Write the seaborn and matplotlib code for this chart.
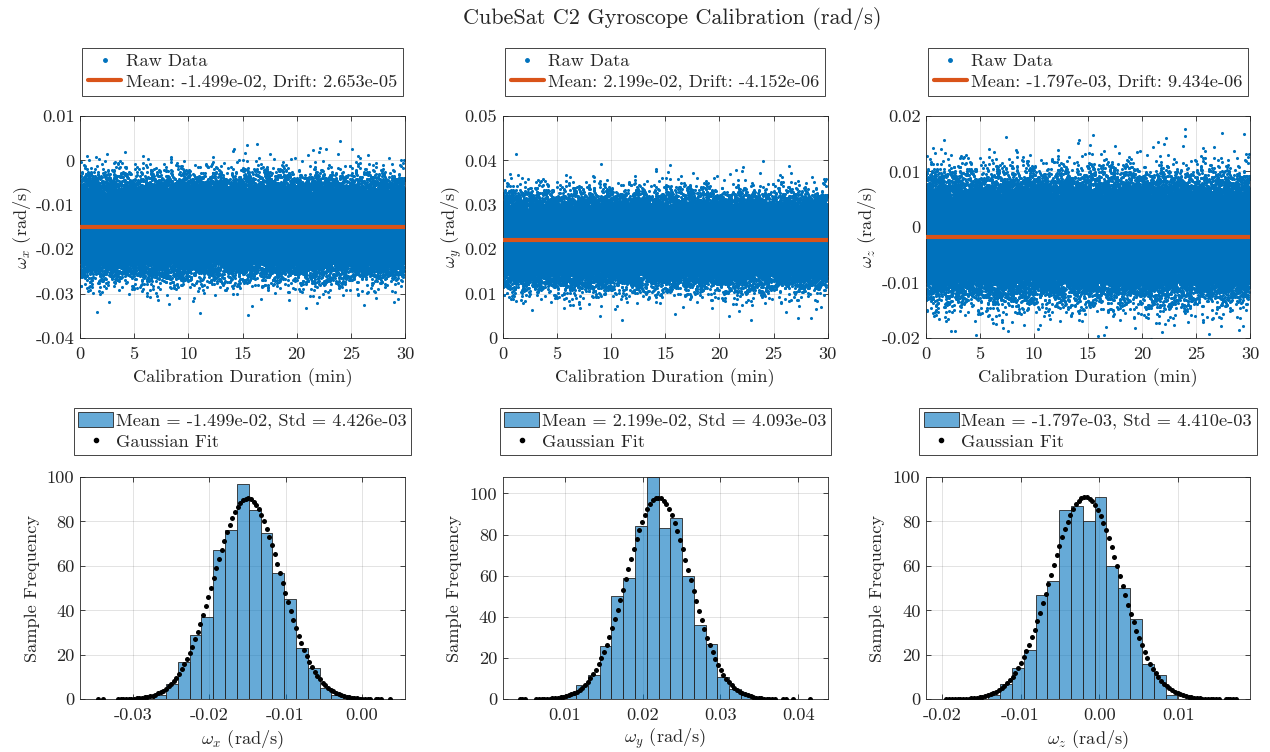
import math
import numpy as np
import pandas as pd
import matplotlib
matplotlib.use("Agg")
import matplotlib.pyplot as plt
import seaborn as sns
from matplotlib.lines import Line2D
from matplotlib.patches import Patch
from matplotlib.ticker import FixedLocator, FixedFormatter

# ---------------- calibration summary ----------------
axis_names = ["x", "y", "z"]
means = [-1.499e-02, 2.199e-02, -1.797e-03]
stds = [4.426e-03, 4.093e-03, 4.410e-03]
drifts = [2.653e-05, -4.152e-06, 9.434e-06]
duration_min = 30.0
n_samples = 90000          # 50 Hz over 30 min

# isolated extreme readings: time (min), rate (rad/s)
peak_t_x = [1.6, 15.5, 8.2, 4.15, 16.3, 22.7, 25.1, 2.5]
peak_v_x = [-0.0341, -0.0349, -0.0323, 0.0020, 0.0036, 0.0026, 0.0026, 0.0015]
peak_t_y = [1.2, 9.1, 26.4, 9.0, 22.9, 27.3, 28.5, 5.7]
peak_v_y = [0.0414, 0.0393, 0.0387, 0.0050, 0.0040, 0.0044, 0.0046, 0.0068]
peak_t_z = [1.67, 7.4, 27.4, 29.4, 24.0, 4.6, 16.5, 2.3, 7.6]
peak_v_z = [0.0157, 0.0162, 0.0170, 0.0167, 0.0164, -0.0194, -0.0194, -0.0188, -0.0187]

# histogram of a calibration subset
hist_first_edge = [-0.027262, 0.009937, -0.014107]
hist_bin_width = [0.001553, 0.001513, 0.0015]
hist_counts_x = [2, 7, 17, 29, 37, 67, 76, 97, 85, 75, 57, 45, 23, 14, 5, 2]
hist_counts_y = [2, 7, 12, 26, 50, 59, 84, 108, 83, 88, 60, 36, 27, 11, 5, 2]
hist_counts_z = [2, 7, 14, 22, 47, 53, 85, 87, 80, 91, 60, 50, 36, 16, 11, 2]

# Gaussian fit: peak height of the scaled density
fit_peak = [90.4, 98.0, 91.0]

# sensor resolution and the distinct sample values where the fit is evaluated
lsb = 0.000349
fit_core_x = (-0.0320, 0.0012)
fit_tail_x = [-0.0347, -0.0340, 0.0019, 0.0022, 0.0025, 0.0037]
fit_core_y = (0.0063, 0.0370)
fit_tail_y = [0.0042, 0.0045, 0.0049, 0.0380, 0.0384, 0.0394, 0.0415]
fit_core_z = (-0.0194, 0.0152)
fit_tail_z = [0.0160, 0.0163, 0.0166, 0.0170, 0.0173]

# axis ticks
time_ticks = [0, 5, 10, 15, 20, 25, 30]
rate_ticks_x = [-0.04, -0.03, -0.02, -0.01, 0.0, 0.01]
rate_labels_x = ["-0.04", "-0.03", "-0.02", "-0.01", "0", "0.01"]
rate_ticks_y = [0.0, 0.01, 0.02, 0.03, 0.04, 0.05]
rate_labels_y = ["0", "0.01", "0.02", "0.03", "0.04", "0.05"]
rate_ticks_z = [-0.02, -0.01, 0.0, 0.01, 0.02]
rate_labels_z = ["-0.02", "-0.01", "0", "0.01", "0.02"]
hist_ticks_x = [-0.03, -0.02, -0.01, 0.0]
hist_labels_x = ["-0.03", "-0.02", "-0.01", "0.00"]
hist_ticks_y = [0.01, 0.02, 0.03, 0.04]
hist_labels_y = ["0.01", "0.02", "0.03", "0.04"]
hist_ticks_z = [-0.02, -0.01, 0.0, 0.01]
hist_labels_z = ["-0.02", "-0.01", "0.00", "0.01"]
freq_ticks = [0, 20, 40, 60, 80, 100]

# ---------------- styling ----------------
sns.set_style("white")
plt.rcParams["font.family"] = ["cmr10"]
plt.rcParams["mathtext.fontset"] = "cm"
plt.rcParams["axes.unicode_minus"] = False
plt.rcParams["axes.formatter.use_mathtext"] = True

BLUE = "#0072BD"
ORANGE = "#D95319"
INK = "#262626"
FS = 13.2


def std_normal_quantiles(n):
    """Evenly spaced quantiles of the standard normal distribution."""
    z = np.linspace(-6.5, 6.5, 40001)
    cdf = 0.5 * (1.0 + np.vectorize(math.erf)(z / math.sqrt(2.0)))
    u = (np.arange(n) + 0.5) / n
    return np.interp(u, cdf, z)


def style_axes(ax):
    for sp in ax.spines.values():
        sp.set_visible(True)
        sp.set_color(INK)
        sp.set_linewidth(0.6)
    ax.tick_params(direction="in", length=3.5, width=0.6, color=INK,
                   labelcolor=INK, labelsize=FS, top=True, right=True,
                   bottom=True, left=True)
    ax.tick_params(axis="x", pad=6)
    ax.tick_params(axis="y", pad=4)
    ax.grid(True, color=INK, alpha=0.15, linewidth=0.6)
    ax.set_axisbelow(True)


# time base and the ordering of readings within the recording
t = np.arange(n_samples) * duration_min / n_samples
k = np.arange(n_samples, dtype=np.float64)
order = np.argsort(np.mod(k * k * 0.7548776662466927 + k * 0.5698402909980532 + 0.37, 1.0))
zq = std_normal_quantiles(n_samples)[order]

peaks_t = [peak_t_x, peak_t_y, peak_t_z]
peaks_v = [peak_v_x, peak_v_y, peak_v_z]
rate_ticks = [rate_ticks_x, rate_ticks_y, rate_ticks_z]
rate_labels = [rate_labels_x, rate_labels_y, rate_labels_z]
rate_lims = [(-0.04, 0.01), (0.0, 0.05), (-0.02, 0.02)]
hist_counts = [hist_counts_x, hist_counts_y, hist_counts_z]
fit_cores = [fit_core_x, fit_core_y, fit_core_z]
fit_tails = [fit_tail_x, fit_tail_y, fit_tail_z]
hist_ticks = [hist_ticks_x, hist_ticks_y, hist_ticks_z]
hist_labels = [hist_labels_x, hist_labels_y, hist_labels_z]
hist_xlims = [(-0.0370, 0.0057), (0.0020, 0.0438), (-0.0220, 0.0191)]
hist_ylims = [(0, 100), (0, 108), (0, 100)]

W, H = 1270, 752
fig = plt.figure(figsize=(W / 100, H / 100), dpi=100)

lefts = [80, 502.7, 926]
widths = [325, 325, 324]
top_row = (116, 338)
bot_row = (477, 699.3)
ylab_x_top = [-0.175, -0.156, -0.18]
ylab_x_bot = [-0.148, -0.148, -0.15]


def add_axes(left, width, row):
    return fig.add_axes([left / W, 1 - row[1] / H, width / W, (row[1] - row[0]) / H])


def style_legend(leg):
    leg.get_frame().set_linewidth(0.6)
    for txt in leg.get_texts():
        txt.set_color(INK)


for i in range(3):
    name = axis_names[i]
    m, s = means[i], stds[i]

    # ---- raw rate vs time ----
    ax = add_axes(lefts[i], widths[i], top_row)
    style_axes(ax)
    raw = m + s * zq
    sns.scatterplot(x=t, y=raw, s=5, color=BLUE, linewidth=0, ax=ax,
                    legend=False, zorder=2)
    sns.scatterplot(x=peaks_t[i], y=peaks_v[i], s=5, color=BLUE, linewidth=0,
                    ax=ax, legend=False, zorder=2)
    sns.lineplot(x=[t[0], duration_min], y=[m, m], color=ORANGE, linewidth=3,
                 ax=ax, legend=False, zorder=3)
    ax.set_xlim(0, duration_min)
    ax.set_ylim(*rate_lims[i])
    ax.xaxis.set_major_locator(FixedLocator(time_ticks))
    ax.xaxis.set_major_formatter(FixedFormatter([str(v) for v in time_ticks]))
    ax.yaxis.set_major_locator(FixedLocator(rate_ticks[i]))
    ax.yaxis.set_major_formatter(FixedFormatter(rate_labels[i]))
    ax.set_xlabel("Calibration Duration (min)", fontsize=FS, color=INK)
    ax.set_ylabel(r"$\omega_%s$ (rad/s)" % name, fontsize=FS, color=INK)
    ax.xaxis.set_label_coords(0.5, -0.18)
    ax.xaxis.label.set_va("center")
    ax.yaxis.set_label_coords(ylab_x_top[i], 0.5)
    ax.yaxis.label.set_va("center")
    handles = [
        Line2D([], [], linestyle="none", marker=".", markersize=5, color=BLUE),
        Line2D([], [], color=ORANGE, linewidth=3),
    ]
    labels = ["Raw Data", f"Mean: {m:.3e}, Drift: {drifts[i]:.3e}"]
    leg = ax.legend(handles, labels, loc="lower center",
                    bbox_to_anchor=(0.5, 1.09), fontsize=FS, frameon=True,
                    fancybox=False, framealpha=1, edgecolor=INK,
                    handlelength=1.8, handletextpad=0.25, borderpad=0.32,
                    labelspacing=0.25, borderaxespad=0)
    style_legend(leg)

    # ---- histogram with Gaussian fit ----
    ax = add_axes(lefts[i], widths[i], bot_row)
    style_axes(ax)
    counts = np.array(hist_counts[i], dtype=float)
    edges = hist_first_edge[i] + hist_bin_width[i] * np.arange(len(counts) + 1)
    centers = 0.5 * (edges[:-1] + edges[1:])
    hist_df = pd.DataFrame({"rate": centers, "count": counts})
    sns.histplot(data=hist_df, x="rate", weights="count", bins=edges.tolist(),
                 color=BLUE, alpha=0.6, edgecolor=INK, linewidth=0.6, ax=ax,
                 zorder=2)
    lo, hi = fit_cores[i]
    xs = np.sort(np.concatenate([np.arange(lo, hi + lsb / 2, lsb), fit_tails[i]]))
    ys = fit_peak[i] * np.exp(-0.5 * ((xs - m) / s) ** 2)
    sns.scatterplot(x=xs, y=ys, s=13, color="black", linewidth=0, ax=ax,
                    legend=False, zorder=3)
    ax.set_xlim(*hist_xlims[i])
    ax.set_ylim(*hist_ylims[i])
    ax.xaxis.set_major_locator(FixedLocator(hist_ticks[i]))
    ax.xaxis.set_major_formatter(FixedFormatter(hist_labels[i]))
    ax.yaxis.set_major_locator(FixedLocator(freq_ticks))
    ax.yaxis.set_major_formatter(FixedFormatter([str(v) for v in freq_ticks]))
    ax.set_xlabel(r"$\omega_%s$ (rad/s)" % name, fontsize=FS, color=INK)
    ax.set_ylabel("Sample Frequency", fontsize=FS, color=INK)
    ax.xaxis.set_label_coords(0.5, -0.18)
    ax.xaxis.label.set_va("center")
    ax.yaxis.set_label_coords(ylab_x_bot[i], 0.5)
    ax.yaxis.label.set_va("center")
    handles = [
        Patch(facecolor=(0.0, 0.447, 0.741, 0.6), edgecolor=INK, linewidth=0.6),
        Line2D([], [], linestyle="none", marker=".", markersize=6, color="black"),
    ]
    labels = [f"Mean = {m:.3e}, Std = {s:.3e}", "Gaussian Fit"]
    leg = ax.legend(handles, labels, loc="lower center",
                    bbox_to_anchor=(0.5, 1.1), fontsize=FS, frameon=True,
                    fancybox=False, framealpha=1, edgecolor=INK,
                    handlelength=1.9, handleheight=0.9, handletextpad=0.15,
                    borderpad=0.25, labelspacing=0.2, borderaxespad=0)
    style_legend(leg)

fig.text(672 / W, 1 - 19 / H, "CubeSat C2 Gyroscope Calibration (rad/s)",
         ha="center", va="center", fontsize=16, color=INK)

fig.savefig("out.png", dpi=100)
